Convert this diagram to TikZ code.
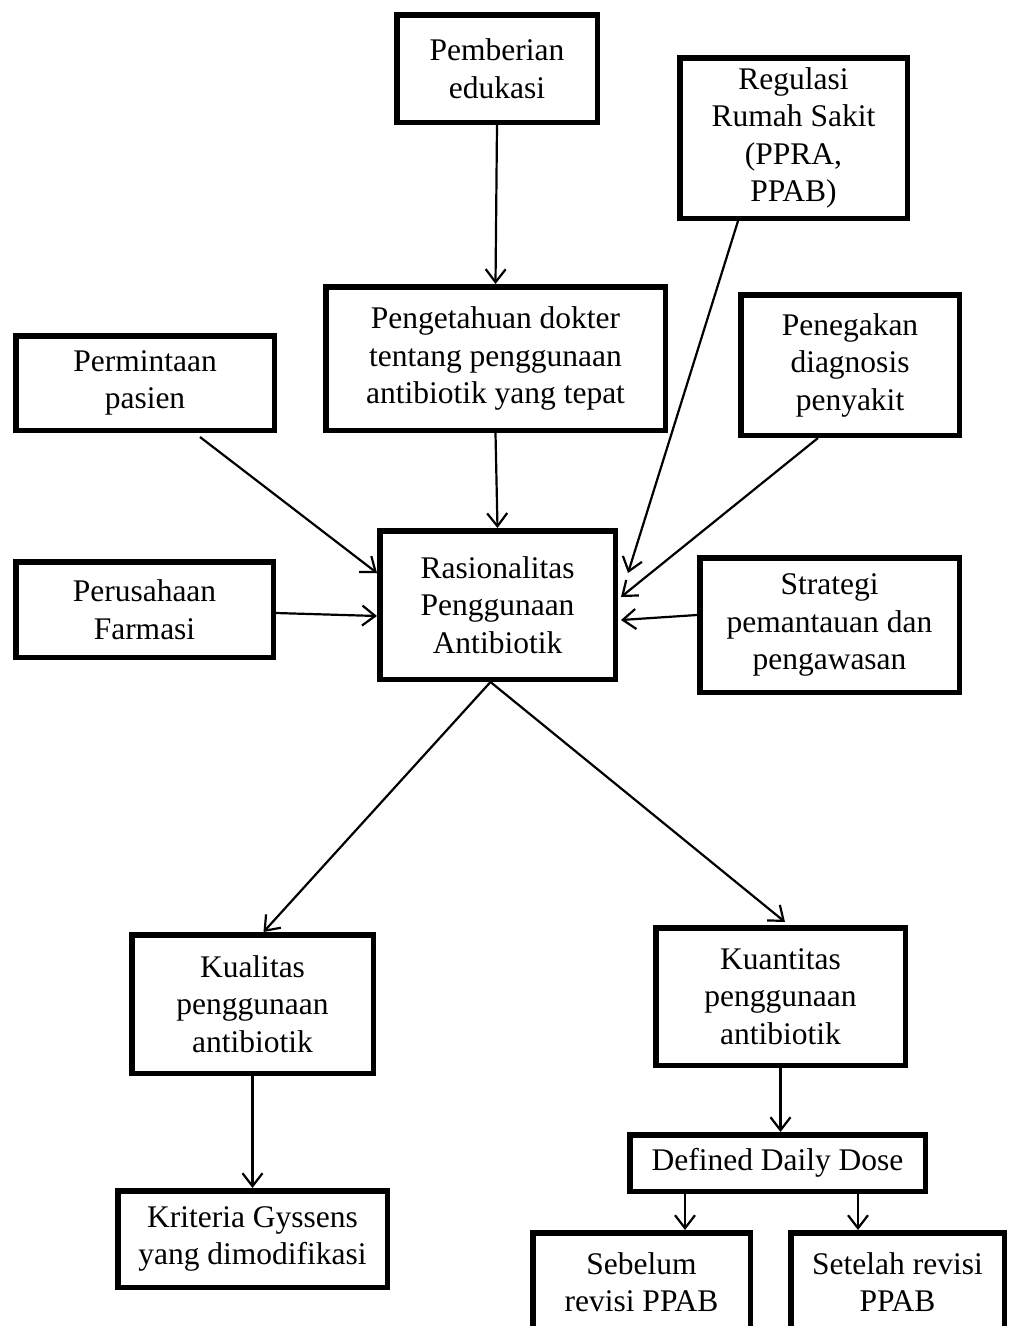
\documentclass[tikz,border=0pt]{standalone}
\usepackage{fontspec}
\setmainfont{Liberation Serif}
\usetikzlibrary{arrows.meta}
\tikzset{
  box/.style={draw=black, line width=5.5pt, fill=white, inner sep=0pt, align=center,
    font=\fontsize{31.5}{37.5}\selectfont},
  arr/.style={draw=black, line width=2.2pt, -{Straight Barb[length=13pt,width=20pt,line width=2.2pt]}}
}
\begin{document}
\begin{tikzpicture}[x=1pt,y=-1pt]
\clip (0,0) rectangle (1009,1326);
\fill[white] (0,0) rectangle (1009,1326);
% boxes: center, size = outer - line width
\node[box, minimum width=200.5pt, minimum height=107.5pt] (edu) at (497,68.5) {Pemberian\\edukasi};
\node[box, minimum width=227.5pt, minimum height=160.5pt] (reg) at (793.5,138) {Regulasi\\Rumah Sakit\\(PPRA,\\PPAB)};
\node[box, minimum width=339.5pt, minimum height=143.5pt] (know) at (495.5,358.5) {Pengetahuan dokter\\tentang penggunaan\\antibiotik yang tepat};
\node[box, minimum width=258.5pt, minimum height=94.5pt] (perm) at (145,383) {Permintaan\\pasien};
\node[box, minimum width=218.5pt, minimum height=140.5pt] (diag) at (850,365) {Penegakan\\diagnosis\\penyakit};
\node[box, minimum width=235.5pt, minimum height=148.5pt] (rat) at (497.5,605) {Rasionalitas\\Penggunaan\\Antibiotik};
\node[box, minimum width=257.5pt, minimum height=95.5pt] (farm) at (144.5,609.5) {Perusahaan\\Farmasi};
\node[box, minimum width=259.5pt, minimum height=134.5pt] (strat) at (829.5,625) {Strategi\\pemantauan dan\\pengawasan};
\node[box, minimum width=241.5pt, minimum height=138.5pt] (kual) at (252.5,1004) {Kualitas\\penggunaan\\antibiotik};
\node[box, minimum width=249.5pt, minimum height=137.5pt] (kuan) at (780.5,996.5) {Kuantitas\\penggunaan\\antibiotik};
\node[box, minimum width=295.5pt, minimum height=56.5pt] (ddd) at (777.5,1163) {Defined Daily Dose};
\node[box, minimum width=269.5pt, minimum height=96.5pt] (gys) at (252.5,1239) {Kriteria Gyssens\\yang dimodifikasi};
\node[box, minimum width=217.5pt, minimum height=98.5pt] (seb) at (641.5,1282) {Sebelum\\revisi PPAB};
\node[box, minimum width=213.5pt, minimum height=98.5pt] (set) at (897.5,1282) {Setelah revisi\\PPAB};
% connectors
\draw[arr] (edu.south) -- (know.north);
\draw[arr] (know.south) -- (rat.north);
\draw[arr] ([xshift=61pt]reg.south west) -- ([xshift=10pt,yshift=32pt]rat.east);
\draw[arr] ([xshift=80pt]diag.south west) -- ([xshift=3pt,yshift=8pt]rat.east);
\draw[arr] ([yshift=10pt]strat.west) -- ([xshift=3pt,yshift=-15pt]rat.east);
\draw[arr] ([xshift=187pt,yshift=-4pt]perm.south west) -- ([yshift=32pt]rat.west);
\draw[arr] ([yshift=-3.5pt]farm.east) -- ([yshift=-11pt]rat.west);
\draw[arr] ([xshift=-7pt]rat.south) -- ([xshift=11pt]kual.north);
\draw[arr] ([xshift=-7pt]rat.south) -- ([xshift=4.5pt,yshift=3pt]kuan.north);
\draw[arr] (kual.south) -- (gys.north);
\draw[arr] (kuan.south) -- (kuan.south |- ddd.north);
\draw[arr] ([xshift=-92.5pt]ddd.south) -- ([xshift=-92.5pt]ddd.south |- seb.north);
\draw[arr] ([xshift=80.5pt]ddd.south) -- ([xshift=80.5pt]ddd.south |- set.north);
\end{tikzpicture}
\end{document}
